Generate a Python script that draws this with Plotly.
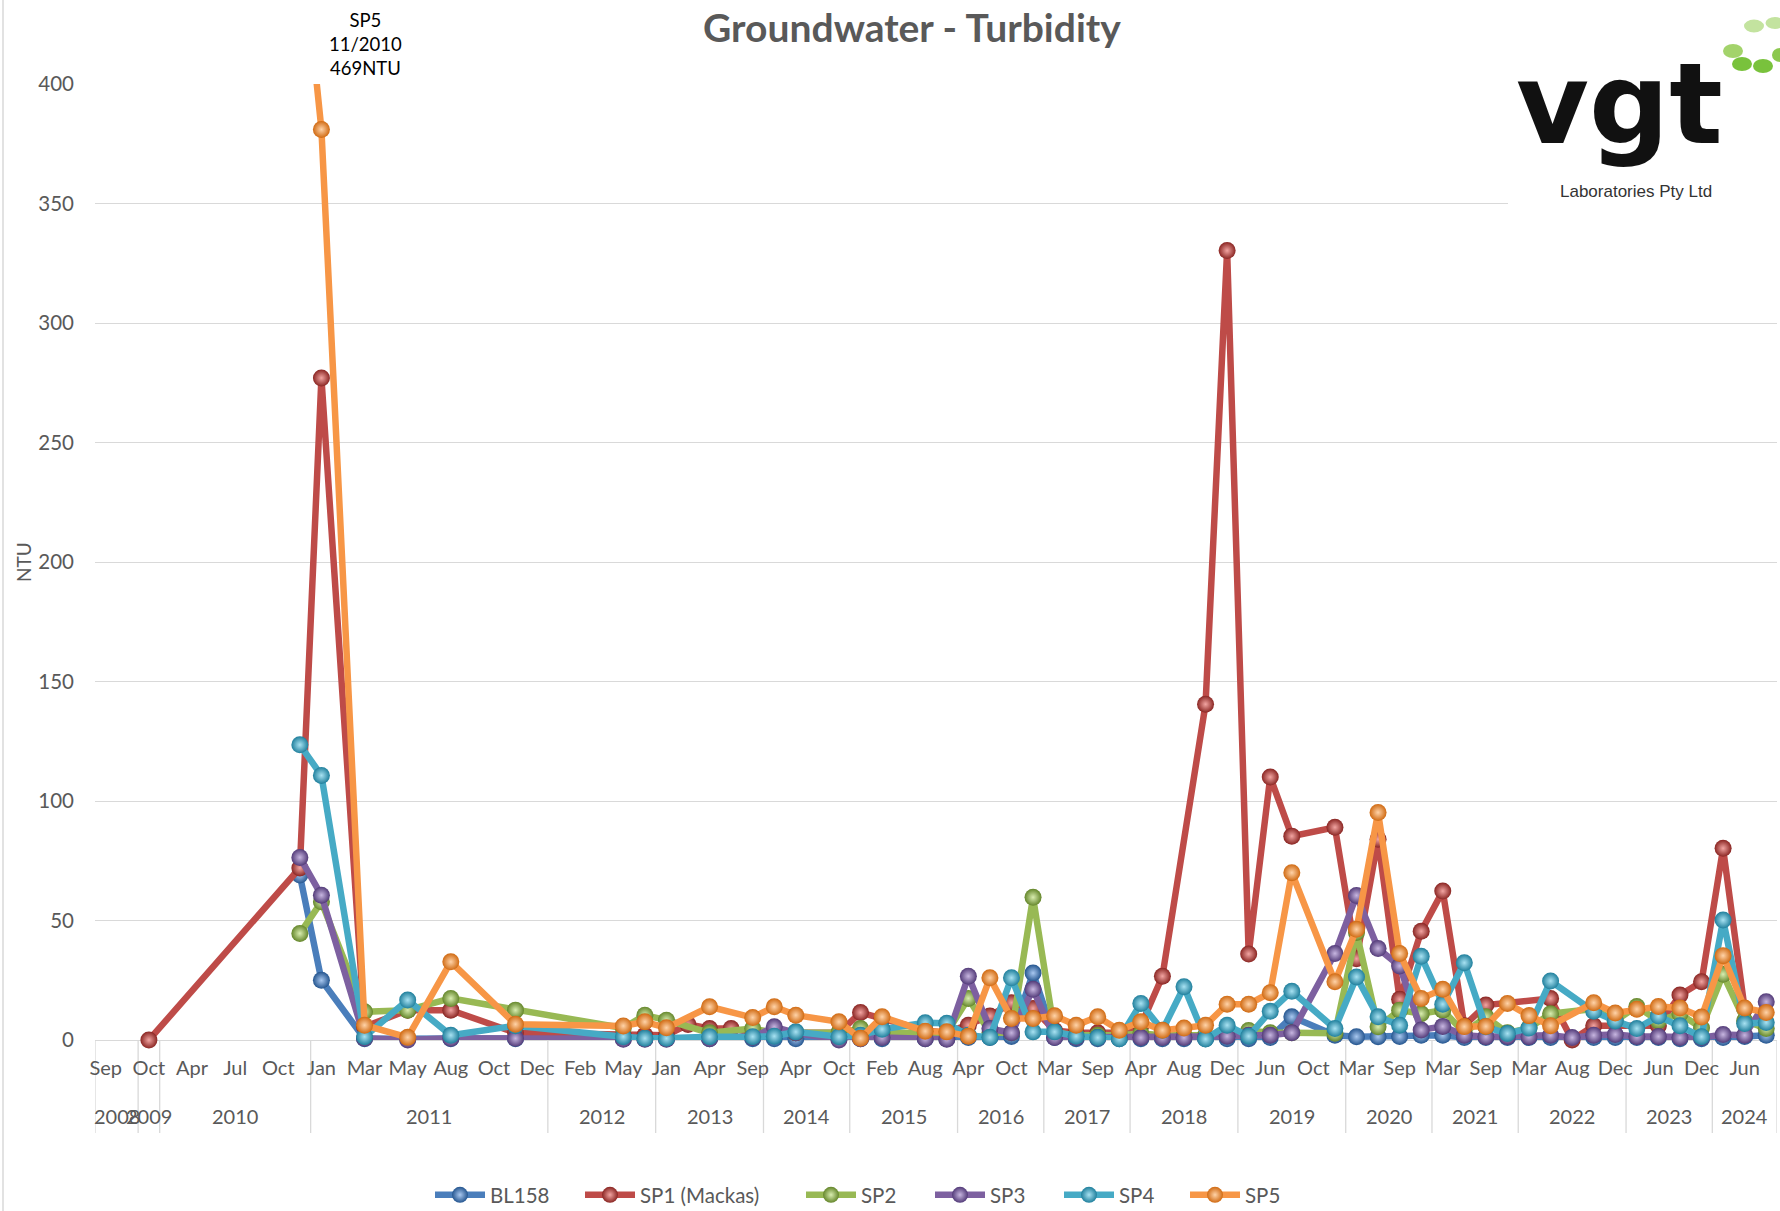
import plotly.graph_objects as go

# ---------------- data ----------------
years = ["2008", "2009", "2010", "2011", "2012", "2013", "2014", "2015", "2016",
         "2017", "2018", "2019", "2020", "2021", "2022", "2023", "2024"]
year_counts = [2, 1, 7, 11, 5, 5, 4, 5, 4, 4, 5, 5, 4, 4, 5, 4, 3]
# month labels shown on every second category
month_ticks = ["Sep", "Oct", "Apr", "Jul", "Oct", "Jan", "Mar", "May", "Aug", "Oct", "Dec",
               "Feb", "May", "Jan", "Apr", "Sep", "Apr", "Oct", "Feb", "Aug", "Apr", "Oct",
               "Mar", "Sep", "Apr", "Aug", "Dec", "Jun", "Oct", "Mar", "Sep", "Mar", "Sep",
               "Mar", "Aug", "Dec", "Jun", "Dec", "Jun"]

N = None
BL158 = [N, N, N, N, N, N, N, N, N, 69, 25, N, 0.5, N, 0.5, N, 0.5, N, N, 0.5,
         N, N, N, N, 0.5, 0.5, 0.5, N, 0.5, N, 0.5, 0.5, 0.5, N, 0.5, 0.5, 0.5, N, 0.5, 0.5,
         1, 1, 1.5, 28, 1, 0.5, 0.5, 0.5, 0.5, 0.5, 0.5, 0.5, 0.5, 0.5, 1, 9.7, N, 2, 1.4, 1.4,
         1.5, 2, 2, 1, 1, 1, 1, 1, N, 1, 1, 1, 1, 0.5, 0.5, 1, 1.5, 2]
SP1 = [N, N, 0, N, N, N, N, N, N, 72, 277, N, 5.5, N, 12.5, N, 12.5, N, N, 3,
       N, N, N, N, 2, 2, 2, 6.5, 4.8, 4.8, 3, 3, 3, N, 3, 11.5, 9, N, 4, 3,
       6.2, 10, 15.6, 13.2, 4, 3, 3, 3, 6, 26.7, N, 140.5, 330.3, 36, 110, 85.3, N, 89, 34, 84,
       17, 45.5, 62.3, 6, 14.6, N, N, 17.4, 0, 6, N, N, 6, 18.8, 24.4, 80.2, 13, N]
SP2 = [N, N, N, N, N, N, N, N, N, 44.6, 57.8, N, 11.8, N, 12.5, N, 17.4, N, N, 12.5,
       N, N, N, N, 5, 10.4, 8.3, N, 3, N, 4.8, 3, 3, N, 3, 4.8, 3, N, 3, 3,
       17.4, 3, 3, 59.7, 3, 2, 2, 2, 2.7, 2, 2, 2, 2, 4, 3, 3, N, 2.8, 45, 5.5,
       12.5, 11, 12.5, 3, 9.7, 3, 5, 11, N, 13, 8, 14, 8, 11, 5, 27.5, 8, 4.8]
SP3 = [N, N, N, N, N, N, N, N, N, 76.4, 60.6, N, 0.7, N, 0, N, 0.7, N, N, 0.7,
       N, N, N, N, 0.3, 0.3, 0.3, N, 0.5, N, 1, 5.5, 3, N, 0, 0.5, 1, N, 0.5, 0.3,
       26.7, 4.8, 3, 21.2, 1, 1, 1, 1, 1, 1, 1, 1, 1.6, 2, 2, 3, N, 36.2, 60.5, 38.3,
       31, 4.2, 5.7, 2, 1.4, 1.5, 1.4, 2, 1, 2, 2.3, 1.5, 1.5, 1, 1, 2.3, 2, 16]
SP4 = [N, N, N, N, N, N, N, N, N, 123.5, 110.7, N, 1.4, N, 16.7, N, 2, N, N, 6,
       N, N, N, N, 1.4, 0.7, 0.7, N, 1.4, N, 1.4, 1.6, 3.4, N, 1.4, 2, 4.5, N, 7.2, 7,
       2, 1.1, 26, 3.4, 3.4, 1.6, 1, 0.5, 15.3, 4.1, 22.3, 0.4, 6.2, 1.6, 12, 20.4, N, 4.8, 26.4, 9.7,
       6.2, 35, 15, 32.3, 5.5, 2.7, 5, 24.7, N, 12, 8, 4.8, 10, 6, 1.4, 50.2, 6.9, 7.3]
SP5 = [N, N, N, N, N, N, N, N, N, 469, 381, N, 6.2, N, 1.1, N, 32.7, N, N, 6.6,
       N, N, N, N, 5.9, 7.6, 5.1, N, 13.9, N, 9.4, 13.9, 10.4, N, 7.6, 0.7, 9.7, N, 3.7, 3.4,
       1.6, 26, 9, 9, 10.1, 6.2, 9.7, 4.1, 7.6, 4.1, 5, 6.2, 15, 15, 19.8, 70, N, 24.4, 46.3, 95.2,
       36.2, 17.4, 21.2, 5.6, 5.7, 15.3, 10.2, 6, N, 15.6, 11.3, 12.9, 14, 13.4, 9.6, 35.3, 13.4, 11.5]

series_names = ["BL158", "SP1 (Mackas)", "SP2", "SP3", "SP4", "SP5"]
series_values = [BL158, SP1, SP2, SP3, SP4, SP5]
line_colors = ["#4A7EBB", "#BE4B48", "#98B954", "#7D60A0", "#46AAC5", "#F79646"]
marker_edge = ["#24558F", "#8A2522", "#64862A", "#523A78", "#1F7F9C", "#D06A12"]
marker_center = ["#A9C8F0", "#F2A5A2", "#D9EDB0", "#C7B6E0", "#A8E2F2", "#FFD3A8"]
# legend item start (px) for each series
legend_x_px = [430, 580, 801, 930, 1059, 1185]

# ---------------- layout geometry ----------------
W, H = 1780, 1211
ML, MR, MT, MB = 95, 3, 84, 171
PW, PH = W - ML - MR, H - MT - MB


def pxx(px):
    return (px - ML) / PW


def pxy(py):
    return (H - MB - py) / PH


n_cat = sum(year_counts)
x_idx = list(range(n_cat))
tick_idx = list(range(0, n_cat, 2))

FONT = "Lato"
GREY = "#595959"
GRID = "#D9D9D9"

fig = go.Figure()
legends = {}
for k, (name, vals, lc, me, mc) in enumerate(zip(series_names, series_values, line_colors,
                                                  marker_edge, marker_center)):
    lname = "legend" if k == 0 else f"legend{k + 1}"
    fig.add_trace(go.Scatter(
        x=x_idx, y=vals, name=name, mode="lines+markers",
        connectgaps=True, cliponaxis=False, legend=lname,
        line=dict(color=lc, width=6.5),
        marker=dict(size=17, color=me, line=dict(width=0),
                    gradient=dict(type="radial", color=mc)),
    ))
    legends[lname] = dict(orientation="h", xref="container", yref="container",
                          x=legend_x_px[k] / W, xanchor="left",
                          y=1 - 1195 / H, yanchor="middle",
                          font=dict(family=FONT, size=20.5, color=GREY), itemwidth=50,
                          bgcolor="rgba(0,0,0,0)", borderwidth=0)

shapes = []
# category group separators
bounds = [0]
for c in year_counts:
    bounds.append(bounds[-1] + c)
for b in bounds:
    shapes.append(dict(type="line", xref="x", yref="paper", x0=b - 0.5, x1=b - 0.5,
                       y0=0, y1=pxy(1133), line=dict(color=GRID, width=1.3), layer="below"))
# chart area left border
shapes.append(dict(type="line", xref="paper", yref="paper", x0=pxx(3), x1=pxx(3),
                   y0=pxy(0), y1=pxy(H), line=dict(color=GRID, width=1.5)))
# logo background
shapes.append(dict(type="rect", xref="paper", yref="paper", x0=pxx(1508), x1=pxx(1781),
                   y0=pxy(216), y1=pxy(-2), fillcolor="white", line=dict(width=0), layer="above"))
# logo dots (cx, cy, w, h, color)
dots = [(1754, 26, 20, 13, "#C3E39F"), (1775, 23, 19, 12, "#C3E39F"),
        (1733, 51, 20, 14, "#A3D36B"), (1742, 64, 20, 14, "#79C23C"),
        (1763, 66, 20, 14, "#79C23C"), (1780, 55, 16, 14, "#8CC84E")]
for cx, cy, w, h, col in dots:
    shapes.append(dict(type="circle", xref="paper", yref="paper",
                       x0=pxx(cx - w / 2), x1=pxx(cx + w / 2), y0=pxy(cy + h / 2), y1=pxy(cy - h / 2),
                       fillcolor=col, line=dict(width=0), layer="above"))

annotations = []
for i, yr in enumerate(years):
    center = bounds[i] + year_counts[i] / 2 - 0.5
    annotations.append(dict(x=center, y=pxy(1116), xref="x", yref="paper", text=yr,
                            showarrow=False, font=dict(family=FONT, size=20, color=GREY),
                            xanchor="center", yanchor="middle"))
annotations.append(dict(x=pxx(23), y=pxy(562), xref="paper", yref="paper", text="NTU",
                        textangle=-90, showarrow=False, xanchor="center", yanchor="middle",
                        font=dict(family=FONT, size=19, color=GREY)))
annotations.append(dict(x=pxx(365), y=pxy(44), xref="paper", yref="paper",
                        text="SP5<br>11/2010<br>469NTU", showarrow=False, align="center",
                        xanchor="center", yanchor="middle",
                        font=dict(family=FONT, size=18.5, color="#000000")))
annotations.append(dict(x=pxx(1619), y=pxy(104), xref="paper", yref="paper", text="vgt",
                        showarrow=False, xanchor="center", yanchor="middle",
                        font=dict(family="DejaVu Sans", size=112, color="#111111", weight="bold")))
annotations.append(dict(x=pxx(1636), y=pxy(191), xref="paper", yref="paper",
                        text="Laboratories Pty Ltd", showarrow=False, xanchor="center", yanchor="middle",
                        font=dict(family="Liberation Sans", size=17, color="#333333")))

fig.update_layout(
    width=W, height=H,
    margin=dict(l=ML, r=MR, t=MT, b=MB, autoexpand=False),
    paper_bgcolor="white", plot_bgcolor="white",
    title=dict(text="<b>Groundwater - Turbidity</b>", x=912 / W, xref="container",
               y=1 - 28 / H, yref="container", xanchor="center", yanchor="middle",
               font=dict(family=FONT, size=39, color=GREY)),
    xaxis=dict(range=[-0.5, n_cat - 0.5], tickmode="array", tickvals=tick_idx, ticktext=month_ticks,
               showgrid=False, zeroline=False, showline=False, ticks="", automargin=False,
               ticklabelstandoff=14, tickangle=0,
               tickfont=dict(family=FONT, size=20, color=GREY)),
    yaxis=dict(range=[0, 400], dtick=50, showgrid=True, gridcolor=GRID, gridwidth=1.3,
               zeroline=True, zerolinecolor=GRID, zerolinewidth=1.3, showline=False, ticks="",
               ticklabelstandoff=20, automargin=False,
               tickfont=dict(family=FONT, size=20.5, color=GREY)),
    shapes=shapes, annotations=annotations,
    showlegend=True,
    **legends,
)

fig.write_html("out.html", config={"displayModeBar": False},
               post_script="document.body.style.margin='0px';")
